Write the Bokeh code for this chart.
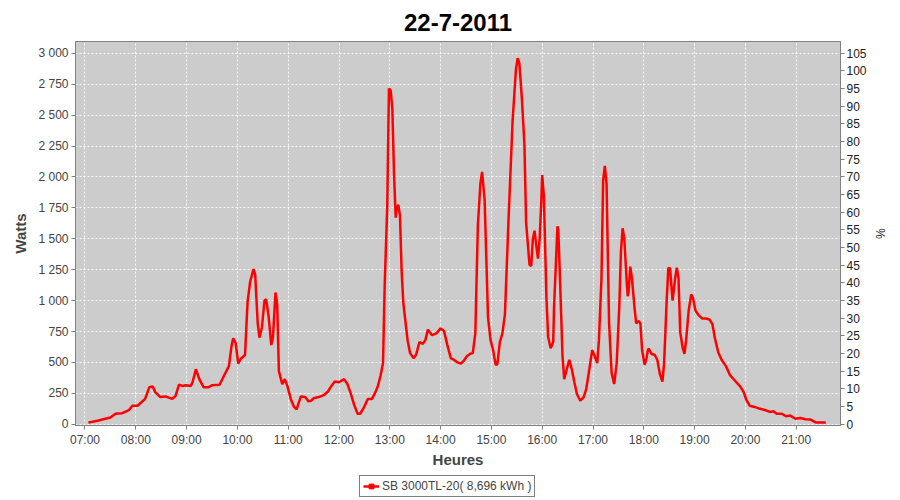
from bokeh.plotting import figure
from bokeh.layouts import column
from bokeh.models import Range1d, LinearAxis, FixedTicker, Legend, LegendItem
from bokeh.embed import file_html
from bokeh.resources import INLINE

# ---------------- data ----------------
times = [
    "07:04", "07:09", "07:16", "07:24", "07:30", "07:36", "07:44", "07:52", "07:56", "08:02",
    "08:07", "08:11", "08:16", "08:20", "08:23", "08:29", "08:35", "08:43", "08:47", "08:51",
    "08:55", "08:59", "09:05", "09:07", "09:11", "09:15", "09:20", "09:26", "09:30", "09:39",
    "09:44", "09:50", "09:53", "09:55", "09:58", "10:01", "10:04", "10:09", "10:12", "10:15",
    "10:19", "10:21", "10:24", "10:26", "10:29", "10:32", "10:34", "10:37", "10:40", "10:42",
    "10:45", "10:47", "10:49", "10:53", "10:56", "10:59", "11:03", "11:07", "11:10", "11:12",
    "11:15", "11:20", "11:24", "11:27", "11:30", "11:36", "11:42", "11:47", "11:51", "11:55",
    "12:00", "12:06", "12:10", "12:14", "12:18", "12:22", "12:25", "12:29", "12:34", "12:39",
    "12:43", "12:46", "12:49", "12:52", "12:54", "12:57", "12:59", "13:01", "13:03", "13:05",
    "13:07", "13:08", "13:10", "13:12", "13:14", "13:16", "13:19", "13:21", "13:24", "13:28",
    "13:31", "13:35", "13:39", "13:42", "13:45", "13:50", "13:55", "14:00", "14:04", "14:08",
    "14:12", "14:16", "14:20", "14:24", "14:27", "14:31", "14:35", "14:38", "14:41", "14:44",
    "14:47", "14:49", "14:52", "14:54", "14:56", "14:59", "15:02", "15:05", "15:07", "15:10",
    "15:13", "15:16", "15:20", "15:25", "15:29", "15:31", "15:33", "15:36", "15:39", "15:41",
    "15:45", "15:47", "15:49", "15:51", "15:53", "15:55", "15:57", "15:59", "16:00", "16:02",
    "16:05", "16:07", "16:10", "16:13", "16:14", "16:18", "16:19", "16:21", "16:24", "16:26",
    "16:29", "16:32", "16:35", "16:38", "16:41", "16:45", "16:49", "16:52", "16:55", "16:59",
    "17:02", "17:05", "17:07", "17:10", "17:12", "17:14", "17:16", "17:19", "17:22", "17:25",
    "17:28", "17:31", "17:33", "17:35", "17:37", "17:40", "17:41", "17:42", "17:44", "17:46",
    "17:49", "17:51", "17:54", "17:56", "17:58", "18:01", "18:03", "18:05", "18:06", "18:09",
    "18:13", "18:16", "18:19", "18:22", "18:24", "18:27", "18:29", "18:31", "18:34", "18:37",
    "18:39", "18:41", "18:43", "18:46", "18:48", "18:50", "18:53", "18:56", "18:58", "19:01",
    "19:05", "19:09", "19:14", "19:18", "19:21", "19:24", "19:28", "19:32", "19:37", "19:42",
    "19:48", "19:54", "19:58", "20:01", "20:05", "20:11", "20:17", "20:23", "20:29", "20:33",
    "20:37", "20:43", "20:48", "20:53", "20:59", "21:05", "21:11", "21:17", "21:23", "21:29",
    "21:35",
]
watts = [
    15, 20, 30, 45, 55, 85, 90, 115, 150, 150,
    180, 205, 300, 305, 260, 220, 225, 205, 230, 320,
    310, 315, 310, 340, 445, 365, 300, 300, 315, 320,
    390, 470, 630, 695, 655, 490, 530, 560, 990, 1150,
    1255, 1210, 815, 700, 785, 1000, 1010, 865, 640, 705,
    1065, 970, 430, 325, 365, 310, 205, 140, 120, 165,
    225, 220, 185, 190, 210, 220, 235, 265, 310, 345,
    340, 365, 325, 245, 155, 85, 85, 130, 205, 205,
    260, 310, 390, 495, 1130, 1765, 2715, 2700, 2555, 2025,
    1670, 1735, 1775, 1690, 1235, 980, 800, 680, 575, 535,
    560, 665, 650, 680, 765, 720, 735, 775, 755, 640,
    535, 520, 500, 490, 510, 550, 570, 575, 735, 1605,
    1945, 2040, 1815, 1340, 865, 680, 600, 480, 485, 665,
    735, 890, 1615, 2450, 2870, 2960, 2920, 2635, 2265, 1630,
    1290, 1280, 1500, 1565, 1445, 1340, 1500, 1815, 2015, 1840,
    1025, 705, 615, 665, 945, 1600, 1575, 1180, 550, 365,
    445, 520, 445, 340, 245, 190, 220, 285, 415, 600,
    550, 495, 680, 1180, 1975, 2090, 1945, 815, 415, 325,
    495, 945, 1395, 1585, 1500, 1130, 1035, 1070, 1275, 1180,
    945, 815, 835, 815, 600, 480, 530, 605, 610, 570,
    560, 520, 405, 345, 495, 1000, 1265, 1260, 1000, 1180,
    1265, 1180, 745, 615, 570, 680, 920, 1050, 1025, 920,
    880, 855, 855, 845, 810, 695, 580, 520, 470, 395,
    350, 305, 260, 200, 150, 140, 125, 115, 100, 105,
    85, 85, 65, 70, 45, 50, 40, 38, 15, 15,
    15,
]
hour_ticks = [7, 8, 9, 10, 11, 12, 13, 14, 15, 16, 17, 18, 19, 20, 21]
hour_labels = ["07:00", "08:00", "09:00", "10:00", "11:00", "12:00", "13:00", "14:00",
               "15:00", "16:00", "17:00", "18:00", "19:00", "20:00", "21:00"]
watt_ticks = [0, 250, 500, 750, 1000, 1250, 1500, 1750, 2000, 2250, 2500, 2750, 3000]
watt_labels = ["0", "250", "500", "750", "1 000", "1 250", "1 500", "1 750", "2 000",
               "2 250", "2 500", "2 750", "3 000"]
pct_ticks = [0, 5, 10, 15, 20, 25, 30, 35, 40, 45, 50, 55, 60, 65, 70, 75, 80, 85, 90, 95, 100, 105]
series_label = "SB 3000TL-20( 8,696 kWh )"
chart_title = "22-7-2011"

# ---------------- chart ----------------
hours = [int(t[:2]) + int(t[3:]) / 60.0 for t in times]

FONT = "Liberation Sans"
W_MIN, W_MAX = -10, 3095
RED = "#FF0000"

p = figure(width=900, height=470, output_backend="svg", toolbar_location=None,
           x_range=Range1d(6.813, 21.872), y_range=Range1d(W_MIN, W_MAX),
           title=chart_title,
           min_border_left=75, min_border_right=60, min_border_top=35, min_border_bottom=44,
           background_fill_color="#CCCCCC", border_fill_color="white")

p.outline_line_color = "#808080"
p.title.align = "center"
p.title.text_font = FONT
p.title.text_font_size = "24px"
p.title.text_font_style = "bold"
p.title.text_color = "black"
p.title.standoff = 22

for g in (p.xgrid, p.ygrid):
    g.grid_line_color = "white"
    g.grid_line_dash = "2 2"
    g.grid_line_width = 1
    g.grid_line_alpha = 0.9

p.xaxis.ticker = FixedTicker(ticks=hour_ticks)
p.xaxis.major_label_overrides = dict(zip(hour_ticks, hour_labels))
p.xaxis.axis_label = "Heures"

p.yaxis.ticker = FixedTicker(ticks=watt_ticks)
p.yaxis.major_label_overrides = dict(zip(watt_ticks, watt_labels))
p.yaxis.axis_label = "Watts"

p.extra_y_ranges = {"pct": Range1d(W_MIN * 105 / 3000, W_MAX * 105 / 3000)}
raxis = LinearAxis(y_range_name="pct", ticker=FixedTicker(ticks=pct_ticks), axis_label="%")
p.add_layout(raxis, "right")

for ax in (p.xaxis[0], p.yaxis[0], raxis):
    ax.axis_line_color = "#808080"
    ax.major_tick_line_color = "#808080"
    ax.minor_tick_line_color = None
    ax.major_tick_in = 0
    ax.major_tick_out = 4
    ax.major_label_text_font = FONT
    ax.major_label_text_font_size = "12px"
    ax.major_label_text_color = "#444444"
    ax.major_label_standoff = 3
    ax.axis_label_text_font = FONT
    ax.axis_label_text_font_size = "15px"
    ax.axis_label_text_font_style = "bold"
    ax.axis_label_text_color = "#444444"
    ax.axis_label_standoff = 6

p.xaxis.axis_label_standoff = 1
p.xaxis.major_label_standoff = 3

raxis.major_label_text_color = "#222222"
raxis.axis_label_text_font_style = "normal"
raxis.axis_label_text_font_size = "12px"
raxis.axis_label_text_color = "#222222"
raxis.major_label_standoff = 2
raxis.axis_label_standoff = 3

p.line(hours, watts, line_color=RED, line_width=2.5)

# legend strip below the chart; its renderers use the series but lie outside
# this strip's visible range, so only the legend entry shows
lg = figure(width=900, height=30, output_backend="svg", toolbar_location=None,
            x_range=Range1d(0, 1), y_range=Range1d(-1, 0),
            min_border_left=0, min_border_right=0, min_border_top=0, min_border_bottom=0,
            background_fill_color="white", border_fill_color="white")
lg.axis.visible = False
lg.grid.visible = False
lg.outline_line_color = None
lr_line = lg.line(hours, watts, line_color=RED, line_width=2.5)
lr_mark = lg.scatter(hours, watts, marker="square", size=4, color=RED)

legend = Legend(items=[LegendItem(label=series_label, renderers=[lr_line, lr_mark])],
                location=(284, 3), orientation="horizontal",
                border_line_color="black", border_line_width=1,
                background_fill_color="white", background_fill_alpha=1,
                label_text_font=FONT, label_text_font_size="12px",
                label_text_color="#444444", label_height=14,
                glyph_width=16, glyph_height=12, label_standoff=3,
                padding=3, spacing=0, margin=0)
lg.add_layout(legend)

open("out.html", "w").write(file_html(column(p, lg, spacing=0), INLINE))
